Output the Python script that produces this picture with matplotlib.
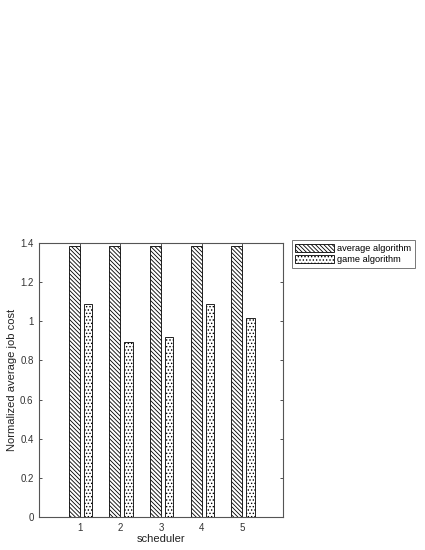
import numpy as np
import matplotlib.pyplot as plt

plt.rcParams['font.family'] = ['Liberation Sans', 'DejaVu Sans']
plt.rcParams['hatch.linewidth'] = 0.6

# Data
schedulers = [1, 2, 3, 4, 5]
average_algorithm = [1.385, 1.385, 1.385, 1.385, 1.385]
game_algorithm = [1.088, 0.893, 0.918, 1.088, 1.015]

fig = plt.figure(figsize=(4.25, 5.5), dpi=100)
ax = fig.add_axes([0.092, 0.06, 0.574, 0.498])

x = np.array(schedulers)
ax.bar(x - 0.135, average_algorithm, width=0.27, color='white', edgecolor='black',
       hatch='\\' * 8, linewidth=0.6, label='average algorithm')
ax.bar(x + 0.2, game_algorithm, width=0.2, color='white', edgecolor='black',
       hatch='.' * 5, linewidth=0.6, label='game algorithm')

ax.set_xlim(0, 6)
ax.set_ylim(0, 1.4)
ax.set_xticks(schedulers)
ax.set_yticks(np.arange(0, 1.41, 0.2))
ax.set_yticklabels(['0', '0.2', '0.4', '0.6', '0.8', '1', '1.2', '1.4'])
ax.tick_params(direction='in', length=2.5, width=0.6, labelsize=7, colors='#333333',
               top=True, right=True, pad=4)
for s in ax.spines.values():
    s.set_color('#555555')
    s.set_linewidth(0.8)

ax.set_xlabel('scheduler', fontsize=8, color='#222222', labelpad=1)
ax.set_ylabel('Normalized average job cost', fontsize=8, color='#222222', labelpad=2)

leg = ax.legend(loc='upper left', bbox_to_anchor=(1.035, 1.01), fontsize=6.7,
                frameon=True, fancybox=False, edgecolor='#555555', handlelength=4.2,
                handleheight=0.9, handletextpad=0.3, borderpad=0.4, labelspacing=0.2,
                borderaxespad=0)
leg.get_frame().set_linewidth(0.7)

fig.savefig('out.png', dpi=100)
